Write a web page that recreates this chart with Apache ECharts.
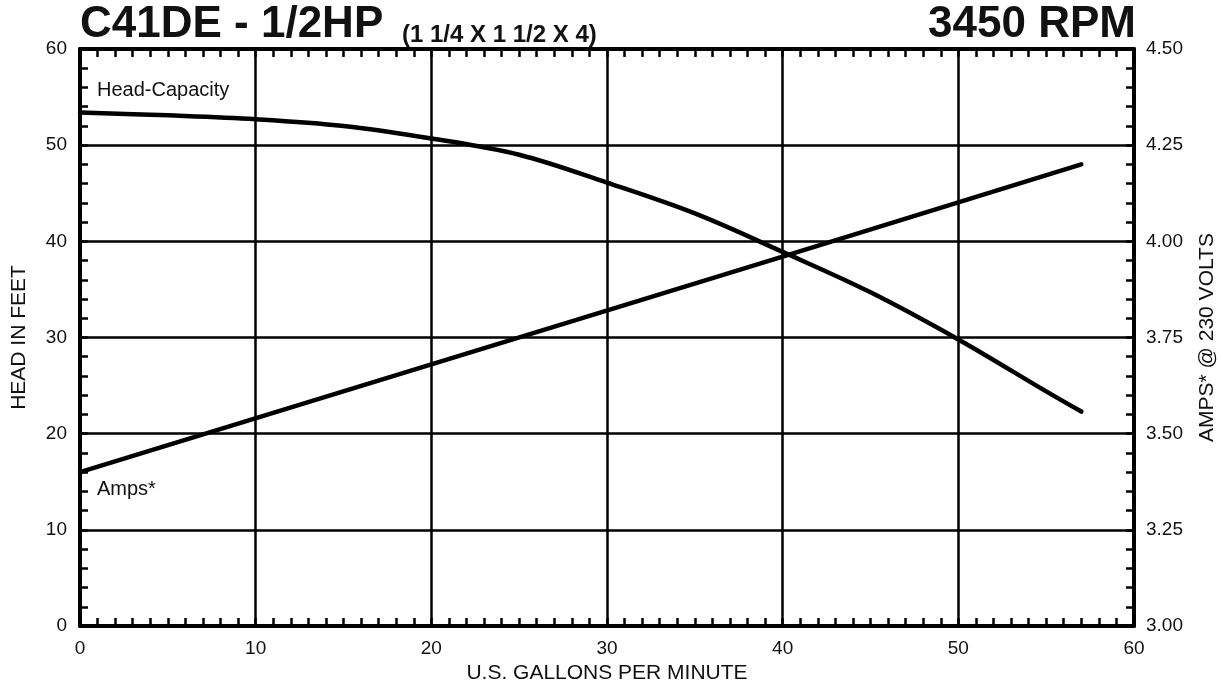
<!DOCTYPE html>
<html>
<head>
<meta charset="utf-8">
<script src="https://cdn.jsdelivr.net/npm/echarts@6/dist/echarts.min.js"></script>
<style>
  html, body { margin: 0; padding: 0; background: #fff; }
  #chart { width: 1223px; height: 685px; }
</style>
</head>
<body>
<div id="chart"></div>
<script>
// head-capacity curve (gpm -> feet)
var headGpm = [0, 5, 10, 15, 20, 25, 30, 35, 40, 45, 50, 55, 57];
var headFt = [53.4, 53.1, 52.7, 52.0, 50.7, 49.0, 46.1, 42.9, 38.9, 34.7, 29.8, 24.4, 22.3];

// amps curve (gpm -> amps @ 230V)
var ampGpm = [0, 20, 40, 57];
var ampValues = [3.40, 3.68, 3.96, 4.20];

var FONT = '"Liberation Sans", Arial, Helvetica, sans-serif';
var INK = '#000';

function pairs(xs, ys) {
    var out = [];
    for (var i = 0; i < xs.length; i++) out.push([xs[i], ys[i]]);
    return out;
}

var chart = echarts.init(document.getElementById('chart'));

var tickLine = { color: INK, width: 2.5 };
var axisLabelStyle = { color: '#111', fontSize: 19, fontFamily: FONT };
var frameLine = { show: true, onZero: false, lineStyle: { color: INK, width: 4 } };

var option = {
    backgroundColor: '#fff',
    animation: false,
    grid: { left: 80, right: 89, top: 49, bottom: 59, outerBoundsMode: 'none' },
    xAxis: [
        {
            type: 'value', min: 0, max: 60, interval: 10, position: 'bottom',
            axisLine: frameLine,
            axisTick: { show: true, inside: true, length: 8, lineStyle: tickLine },
            minorTick: { show: true, splitNumber: 10, length: 8, lineStyle: tickLine },
            splitLine: { show: true, lineStyle: { color: INK, width: 2.5 } },
            axisLabel: Object.assign({ margin: 13 }, axisLabelStyle),
            name: 'U.S. GALLONS PER MINUTE', nameLocation: 'middle', nameGap: 29,
            nameTextStyle: { color: '#111', fontSize: 21, fontFamily: FONT }
        },
        {
            type: 'value', min: 0, max: 60, interval: 10, position: 'top',
            axisLine: frameLine,
            axisTick: { show: true, inside: true, length: 8, lineStyle: tickLine },
            minorTick: { show: true, splitNumber: 10, length: 8, lineStyle: tickLine },
            splitLine: { show: false },
            axisLabel: { show: false }
        }
    ],
    yAxis: [
        {
            type: 'value', min: 0, max: 60, interval: 10, position: 'left',
            axisLine: frameLine,
            axisTick: { show: true, inside: true, length: 8, lineStyle: tickLine },
            minorTick: { show: true, splitNumber: 5, length: 8, lineStyle: tickLine },
            splitLine: { show: true, lineStyle: { color: INK, width: 2.5 } },
            axisLabel: Object.assign({ margin: 13 }, axisLabelStyle),
            name: 'HEAD IN FEET', nameLocation: 'middle', nameGap: 50, nameRotate: 90,
            nameTextStyle: { color: '#111', fontSize: 21, fontFamily: FONT }
        },
        {
            type: 'value', min: 3, max: 4.5, interval: 0.25, position: 'right',
            axisLine: frameLine,
            axisTick: { show: true, inside: true, length: 8, lineStyle: tickLine },
            minorTick: { show: true, splitNumber: 5, length: 8, lineStyle: tickLine },
            splitLine: { show: false },
            axisLabel: Object.assign({ margin: 12, formatter: function (v) { return v.toFixed(2); } }, axisLabelStyle),
            name: 'AMPS* @ 230 VOLTS', nameLocation: 'middle', nameGap: 63, nameRotate: 90,
            nameTextStyle: { color: '#111', fontSize: 21, fontFamily: FONT }
        }
    ],
    series: [
        {
            name: 'Head-Capacity', type: 'line', xAxisIndex: 0, yAxisIndex: 0,
            data: pairs(headGpm, headFt), smooth: 0.35, showSymbol: false,
            lineStyle: { color: INK, width: 4.5, cap: 'round' }
        },
        {
            name: 'Amps*', type: 'line', xAxisIndex: 0, yAxisIndex: 1,
            data: pairs(ampGpm, ampValues), showSymbol: false,
            lineStyle: { color: INK, width: 4.5, cap: 'round' }
        }
    ],
    graphic: [
        { type: 'text', style: { x: 80, y: 25, text: 'C41DE - 1/2HP', font: 'bold 44px ' + FONT, fill: '#111', textAlign: 'left', textVerticalAlign: 'middle', align: 'left', verticalAlign: 'middle' } },
        { type: 'text', style: { x: 402, y: 35, text: '(1 1/4 X 1 1/2 X 4)', font: 'bold 24px ' + FONT, fill: '#111', textAlign: 'left', textVerticalAlign: 'middle', align: 'left', verticalAlign: 'middle' } },
        { type: 'text', style: { x: 1136, y: 25, text: '3450 RPM', font: 'bold 44px ' + FONT, fill: '#111', textAlign: 'right', textVerticalAlign: 'middle', align: 'right', verticalAlign: 'middle' } },
        { type: 'text', style: { x: 97, y: 90, text: 'Head-Capacity', font: '20px ' + FONT, fill: '#111', textAlign: 'left', textVerticalAlign: 'middle', align: 'left', verticalAlign: 'middle' } },
        { type: 'text', style: { x: 97, y: 489, text: 'Amps*', font: '20px ' + FONT, fill: '#111', textAlign: 'left', textVerticalAlign: 'middle', align: 'left', verticalAlign: 'middle' } }
    ]
};

chart.setOption(option);
</script>
</body>
</html>
